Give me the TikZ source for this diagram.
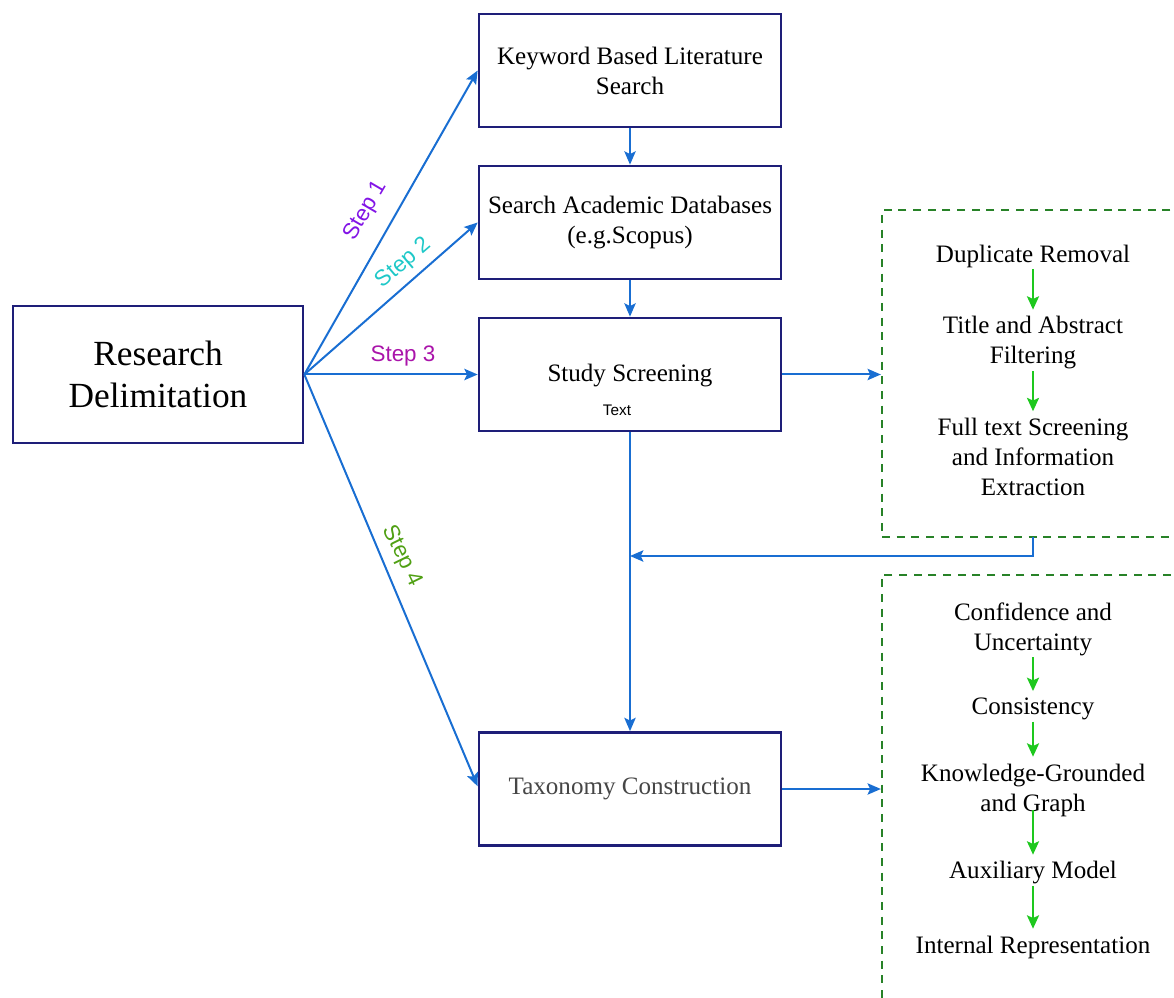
\documentclass[tikz,border=0pt]{standalone}
\usepackage{fontspec}
\setmainfont{Liberation Serif}
\setsansfont{Liberation Sans}
\usetikzlibrary{arrows.meta,calc}
\definecolor{navy}{RGB}{30,30,120}
\definecolor{ablue}{RGB}{25,110,210}
\definecolor{dgreen}{RGB}{40,130,40}
\definecolor{lgreen}{RGB}{30,200,30}
\definecolor{sone}{RGB}{130,20,230}
\definecolor{stwo}{RGB}{30,200,200}
\definecolor{sthree}{RGB}{170,20,170}
\definecolor{sfour}{RGB}{80,160,20}
\definecolor{taxgray}{RGB}{70,70,70}
\begin{document}
\begin{tikzpicture}[x=0.75pt,y=-0.75pt,
 box/.style={draw=navy, line width=2pt, minimum width=226.5pt, minimum height=84.75pt, inner sep=0pt, align=center, font=\fontsize{18.8}{22.5}\selectfont},
 arr/.style={draw=ablue, line width=1.5pt, -{Stealth[length=10pt,width=8.5pt,inset=2pt]}},
 garr/.style={draw=lgreen, line width=1.8pt, -{Stealth[length=10pt,width=9pt,inset=2pt]}},
 dbox/.style={draw=dgreen, line width=1.7pt, dash pattern=on 6pt off 5pt, inner sep=0pt},
 itxt/.style={align=center, inner sep=0pt, font=\fontsize{18.8}{22.5}\selectfont},
 steplbl/.style={font=\sffamily\fontsize{16.8}{18}\selectfont, inner sep=0pt}
]
\useasboundingbox (0,0) rectangle (1174,998);
\clip (0,0) rectangle (1174,998);

% main boxes
\node[box, minimum width=217.5pt, minimum height=102.75pt, font=\fontsize{26.5}{31.5}\selectfont] (rd) at (158,374.5) {Research\\Delimitation};
\node[box] (kw) at (630,70.5) {Keyword Based Literature\\Search};
\node[box] (sa) at (630,222.5) {Search Academic Databases\\(e.g.Scopus)};
\node[box] (ss) at (630,374.5) {};
\node[font=\fontsize{18.8}{22.5}\selectfont, inner sep=0pt] (sst) at (630,376) {Study Screening};
\node[font=\sffamily\fontsize{11.5}{13}\selectfont, inner sep=0pt] (sstext) at (617,410) {Text};
\node[box, text=taxgray] (tx) at (630,789) {Taxonomy Construction};

% dashed group boxes
\node[dbox, minimum width=238.5pt, minimum height=245.25pt] (g1) at (1041,373.5) {};
\node[dbox, minimum width=238.5pt, minimum height=333.75pt] (g2) at (1041,797.5) {};

% step connectors
\draw[arr] (rd.east) -- (kw.west);
\draw[arr] (rd.east) -- (sa.west);
\draw[arr] (rd.east) -- (ss.west);
\draw[arr] (rd.east) -- ([yshift=2pt]tx.west);

\node[steplbl, text=sone, rotate=59.7] (l1) at (366,211) {Step 1};
\node[steplbl, text=stwo, rotate=40.6] (l2) at (404,263) {Step 2};
\node[steplbl, text=sthree] (l3) at (403,356) {Step 3};
\node[steplbl, text=sfour, rotate=-64] (l4) at (402,556) {Step 4};

% vertical connectors
\draw[arr] (kw.south) -- (sa.north);
\draw[arr] (sa.south) -- (ss.north);
\draw[arr] (ss.south) -- (tx.north);

% to group boxes
\draw[arr] (ss.east) -- (ss.east -| g1.west);
\draw[arr] (tx.east) -- (tx.east -| g2.west);

% feedback
\coordinate (fb) at (1033,537);
\coordinate (join) at (630,556);
\draw[arr] (fb) -- (1033,556) -- (join);

% group 1 contents
\node[itxt] (d1) at (1033,256) {Duplicate Removal};
\node[itxt] (d2) at (1033,343) {Title and Abstract\\Filtering};
\node[itxt] (d3) at (1033,457) {Full text Screening\\and Information\\Extraction};
\draw[garr] ([yshift=-1pt]d1.south) -- ([yshift=5pt]d2.north);
\draw[garr] ([yshift=-1pt]d2.south) -- ([yshift=5pt]d3.north);

% group 2 contents
\node[itxt] (e1) at (1033,629) {Confidence and\\Uncertainty};
\node[itxt] (e2) at (1033,709) {Consistency};
\node[itxt] (e3) at (1033,790) {Knowledge-Grounded\\and Graph};
\node[itxt] (e4) at (1033,873) {Auxiliary Model};
\node[itxt] (e5) at (1033,947) {Internal Representation};
\draw[garr] ([yshift=-1pt]e1.south) -- ([yshift=5pt]e2.north);
\draw[garr] ([yshift=-1pt]e2.south) -- ([yshift=5pt]e3.north);
\draw[garr] ([yshift=5pt]e3.south) -- ([yshift=5pt]e4.north);
\draw[garr] ([yshift=-1pt]e4.south) -- ([yshift=5pt]e5.north);
\end{tikzpicture}
\end{document}
